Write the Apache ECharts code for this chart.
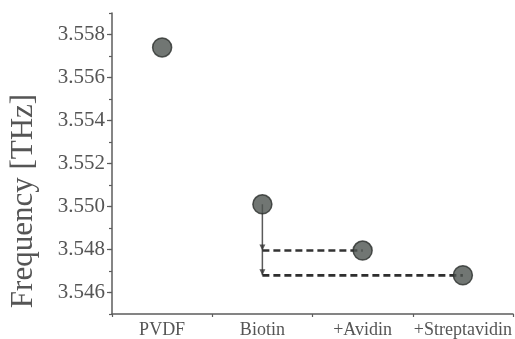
<!DOCTYPE html>
<html>
<head>
<meta charset="utf-8">
<script src="https://cdn.jsdelivr.net/npm/echarts@6/dist/echarts.min.js"></script>
<style>
html,body{margin:0;padding:0;background:#fff;}
#chart{width:515px;height:339px;}
</style>
</head>
<body>
<div id="chart"></div>
<script>
const categories = ['PVDF', 'Biotin', '+Avidin', '+Streptavidin'];
const frequency = [3.5574, 3.5501, 3.54795, 3.5468];
const yMin = 3.545;
const yMax = 3.559;
const yTickLabels = ['3.546', '3.548', '3.550', '3.552', '3.554', '3.556', '3.558'];
const yTitle = 'Frequency [THz]';

const textColor = '#555';
const axisColor = '#5c5c5c';
const font = '"Liberation Serif", "Times New Roman", serif';

const chart = echarts.init(document.getElementById('chart'));
chart.setOption({
  animation: false,
  backgroundColor: '#fff',
  grid: { left: 112, right: 2, top: 13, bottom: 25, containLabel: false },
  xAxis: [
    {
      type: 'category',
      data: categories,
      boundaryGap: true,
      position: 'bottom',
      axisLine: { lineStyle: { color: axisColor, width: 1.5 } },
      axisTick: { alignWithLabel: true, interval: 0, length: 5, lineStyle: { color: axisColor, width: 1.2 } },
      axisLabel: { interval: 0, color: textColor, fontFamily: font, fontSize: 18, margin: 7 },
      splitLine: { show: false }
    },
    {
      type: 'value',
      min: 0, max: 4, interval: 1,
      position: 'bottom',
      axisLine: { show: false },
      axisTick: { show: true, length: 3, lineStyle: { color: axisColor, width: 1.2 } },
      axisLabel: { show: false },
      splitLine: { show: false }
    }
  ],
  yAxis: [
    {
      type: 'value',
      min: yMin, max: yMax,
      splitNumber: 7,
      position: 'left',
      axisLine: { show: true, lineStyle: { color: axisColor, width: 1.5 } },
      axisTick: { show: true, length: 5, lineStyle: { color: axisColor, width: 1.2 } },
      axisLabel: {
        color: textColor, fontFamily: font, fontSize: 21, margin: 7,
        showMinLabel: false, showMaxLabel: false,
        formatter: function (v) {
          const s = v.toFixed(3);
          return yTickLabels.indexOf(s) >= 0 ? s : '';
        }
      },
      splitLine: { show: false }
    },
    {
      type: 'value',
      min: yMin, max: yMax,
      interval: 0.001,
      position: 'left',
      offset: 0,
      axisLine: { show: false },
      axisTick: { show: true, length: 3, lineStyle: { color: axisColor, width: 1.2 } },
      axisLabel: { show: false },
      splitLine: { show: false }
    }
  ],
  graphic: [
    {
      type: 'text',
      x: 24, y: 201,
      rotation: Math.PI / 2,
      style: {
        text: yTitle,
        fill: textColor,
        font: '31px ' + font,
        textAlign: 'center',
        textVerticalAlign: 'middle'
      }
    }
  ],
  series: [
    {
      type: 'line',
      xAxisIndex: 0, yAxisIndex: 0,
      data: [[categories[1], frequency[1]], [categories[1], frequency[3]]],
      symbol: 'none',
      lineStyle: { color: '#5a5a5a', width: 1.5 },
      z: 2
    },
    {
      type: 'line',
      xAxisIndex: 0, yAxisIndex: 0,
      data: [[categories[1], frequency[2]], [categories[2], frequency[2]]],
      symbol: 'none',
      lineStyle: { color: '#333', width: 2.5, type: [7, 4] },
      z: 2
    },
    {
      type: 'line',
      xAxisIndex: 0, yAxisIndex: 0,
      data: [[categories[1], frequency[3]], [categories[3], frequency[3]]],
      symbol: 'none',
      lineStyle: { color: '#2e2e2e', width: 2.8, type: [7, 4] },
      z: 2
    },
    {
      type: 'scatter',
      xAxisIndex: 0, yAxisIndex: 0,
      data: [[categories[1], frequency[2]], [categories[1], frequency[3]]],
      symbol: 'triangle',
      symbolRotate: 180,
      symbolSize: [6, 6],
      symbolOffset: [0, -3],
      itemStyle: { color: '#333' },
      z: 3
    },
    {
      type: 'scatter',
      xAxisIndex: 0, yAxisIndex: 0,
      data: categories.map(function (c, i) { return [c, frequency[i]]; }),
      symbol: 'circle',
      symbolSize: 19,
      itemStyle: { color: '#4e5450', borderColor: '#2a2e2c', borderWidth: 1.5 },
      z: 5
    }
  ]
});
</script>
</body>
</html>
